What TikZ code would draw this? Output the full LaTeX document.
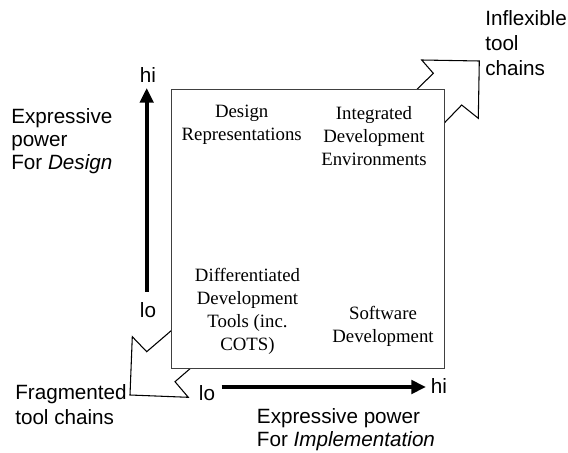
\documentclass[tikz,border=0pt]{standalone}
\usepackage{fontspec}
\setmainfont{Liberation Serif}
\setsansfont{Liberation Sans}
\usetikzlibrary{arrows.meta}
\tikzset{
  lbl/.style={font=\sffamily\fontsize{15.5}{18}\selectfont, inner sep=0pt, align=left},
  cell/.style={font=\rmfamily\fontsize{14.1}{17.25}\selectfont, inner sep=0pt, align=center},
  axis/.style={line width=3pt, -{Triangle[length=11pt,width=10pt]}},
  blockarrow/.style={draw=black, line width=0.8pt, fill=white, line join=miter},
  quad/.style={draw=black!75, line width=0.9pt, fill=white}
}
\begin{document}
\begin{tikzpicture}[x=0.75pt,y=-0.75pt]
\useasboundingbox (0,0) rectangle (568,453);
% block arrows (behind the box)
\draw[blockarrow] (395,111) -- (433.3,73.3) -- (421.7,60) -- (479.3,61) -- (478.3,118.3) -- (461.7,105) -- (423,145) -- cycle;
\draw[blockarrow] (200,306) -- (146.7,351.7) -- (132.3,336.7) -- (130,395) -- (188.3,397.3) -- (175,381.7) -- (214,348) -- cycle;
% main box
\node[quad, minimum width=272.5*0.75pt, minimum height=279*0.75pt, anchor=north west, inner sep=0pt] (box) at (171,89) {};
% cell texts
\node[cell] (dr) at (241.7,125) {Design\\Representations};
\node[cell] (ide) at (374,136.5) {Integrated\\Development\\Environments};
\node[cell] (ddt) at (247.5,311.5) {Differentiated\\Development\\Tools (inc.\\COTS)};
\node[cell] (sd) at (383,326) {Software\\Development};
% axes labels
\node[lbl] (yhi) at (148,75) {hi};
\node[lbl] (ylo) at (148,310) {lo};
\node[lbl] (xlo) at (207,393) {lo};
\node[lbl] (xhi) at (439,386.5) {hi};
\coordinate (ys) at (146.7,291.7);
\coordinate (ye) at (146.7,88);
\coordinate (xs) at (221.7,387);
\coordinate (xe) at (426,387);
\draw[axis] (ys) -- (ye);
\draw[axis] (xs) -- (xe);
% side labels
\node[lbl, anchor=west, font=\sffamily\fontsize{15.5}{17.3}\selectfont] (ydesc) at (11,141) {Expressive\\power\\For \textit{Design}};
\node[lbl, anchor=west, font=\sffamily\fontsize{15.5}{16.8}\selectfont] (xdesc) at (256.7,429.5) {Expressive power\\For \textit{Implementation}};
\node[lbl, anchor=west, font=\sffamily\fontsize{15.5}{18.75}\selectfont] (infl) at (485,43) {Inflexible\\tool\\chains};
\node[lbl, anchor=west, font=\sffamily\fontsize{15.5}{18.75}\selectfont] (frag) at (15,404.5) {Fragmented\\tool chains};
\end{tikzpicture}
\end{document}
